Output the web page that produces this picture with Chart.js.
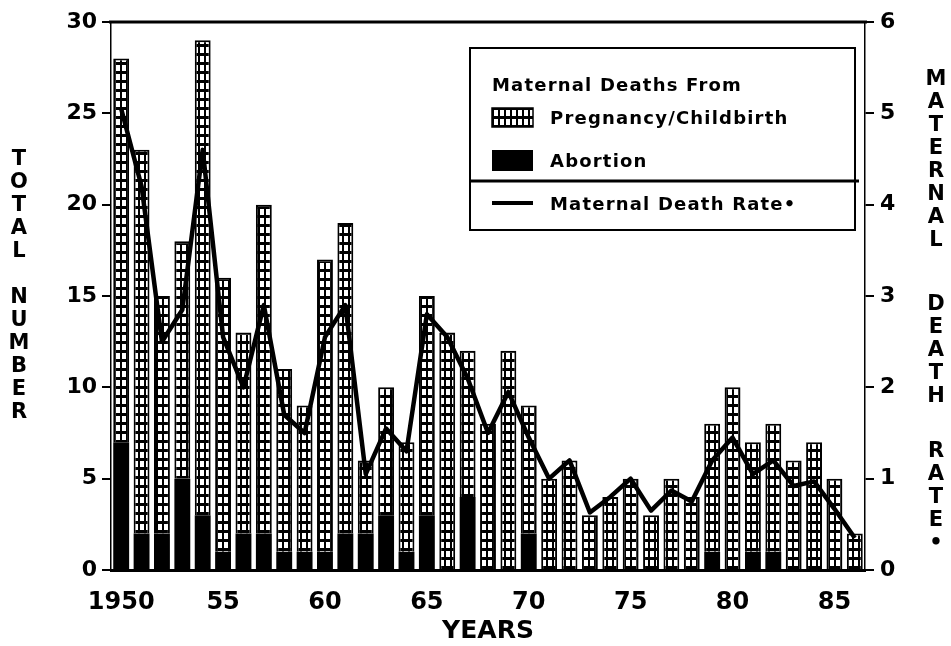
<!DOCTYPE html>
<html>
<head>
<meta charset="utf-8">
<title>Maternal Deaths 1950-1986</title>
<script src="https://cdn.jsdelivr.net/npm/chart.js@4.4.1/dist/chart.umd.min.js"></script>
<style>
  html, body { margin: 0; padding: 0; background: #fff; }
  #wrap { width: 951px; height: 646px; }
</style>
</head>
<body>
<div id="wrap"><canvas id="deathsChart" width="951" height="646"></canvas></div>
<script>
// Data
const years = ['1950', '1951', '1952', '1953', '1954', '1955', '1956', '1957', '1958', '1959',
               '1960', '1961', '1962', '1963', '1964', '1965', '1966', '1967', '1968', '1969',
               '1970', '1971', '1972', '1973', '1974', '1975', '1976', '1977', '1978', '1979',
               '1980', '1981', '1982', '1983', '1984', '1985', '1986'];
const abortionDeaths = [7, 2, 2, 5, 3, 1, 2, 2, 1, 1,
                        1, 2, 2, 3, 1, 3, 0, 4, 0, 0,
                        2, 0, 0, 0, 0, 0, 0, 0, 0, 1,
                        0, 1, 1, 0, 0, 0, 0];
const pregnancyDeaths = [21, 21, 13, 13, 26, 15, 11, 18, 10, 8,
                         16, 17, 4, 7, 6, 12, 13, 8, 8, 12,
                         7, 5, 6, 3, 4, 5, 3, 5, 4, 7,
                         10, 6, 7, 6, 7, 5, 2];
const deathRate = [5.05, 4.2, 2.5, 2.85, 4.6, 2.55, 2.0, 2.9, 1.7, 1.5,
                   2.55, 2.9, 1.05, 1.55, 1.3, 2.8, 2.55, 2.1, 1.5, 1.95,
                   1.45, 1.0, 1.2, 0.63, 0.8, 1.0, 0.65, 0.87, 0.75, 1.2,
                   1.45, 1.05, 1.2, 0.92, 0.97, 0.67, 0.35];
const xTickYears = ['1950', '1955', '1960', '1965', '1970', '1975', '1980', '1985'];
const xTickText = ['1950', '55', '60', '65', '70', '75', '80', '85'];
const legendTitle = 'Maternal Deaths From';
const leftTitleWords = ['TOTAL', 'NUMBER'];
const rightTitleWords = ['MATERNAL', 'DEATH', 'RATE\u2022'];

const FONT = '"DejaVu Sans", "Liberation Sans", sans-serif';

const canvas = document.getElementById('deathsChart');
const ctx = canvas.getContext('2d');

// grid fill used for the pregnancy/childbirth bars
function makeGridPattern() {
    const c = document.createElement('canvas');
    c.width = 6;
    c.height = 9;
    const g = c.getContext('2d');
    g.fillStyle = '#000';
    g.fillRect(0, 0, 6, 9);
    g.fillStyle = '#fff';
    g.fillRect(2, 2, 4, 6);
    return ctx.createPattern(c, 'repeat');
}
const gridPattern = makeGridPattern();

// frame line along the top of the plot
const topLine = {
    id: 'topLine',
    afterDraw(chart) {
        const a = chart.chartArea;
        const c = chart.ctx;
        c.save();
        c.strokeStyle = '#000';
        c.lineWidth = 3;
        c.beginPath();
        c.moveTo(a.left - 2, a.top);
        c.lineTo(a.right + 2, a.top);
        c.stroke();
        c.restore();
    }
};

// stacked letter axis titles
function drawStacked(c, words, x, starts, step) {
    words.forEach((w, i) => {
        [...w].forEach((ch, j) => c.fillText(ch, x, starts[i] + j * step));
    });
}
const sideTitles = {
    id: 'sideTitles',
    afterDraw(chart) {
        const c = chart.ctx;
        c.save();
        c.fillStyle = '#000';
        c.font = 'bold 21px ' + FONT;
        c.textAlign = 'center';
        c.textBaseline = 'middle';
        drawStacked(c, leftTitleWords, 19, [160, 298], 23);
        drawStacked(c, rightTitleWords, 936, [80, 305, 452], 23);
        c.restore();
    }
};

// boxed legend in the upper right
const boxLegend = {
    id: 'boxLegend',
    afterDraw(chart) {
        const c = chart.ctx;
        const ds = chart.data.datasets;
        c.save();
        c.fillStyle = '#fff';
        c.fillRect(470, 48, 385, 182);
        c.strokeStyle = '#000';
        c.lineWidth = 2;
        c.strokeRect(470, 48, 385, 182);

        c.fillStyle = '#000';
        c.font = 'bold 18px ' + FONT;
        c.letterSpacing = '1.2px';
        c.textBaseline = 'middle';
        c.textAlign = 'left';
        c.fillText(legendTitle, 492, 86);

        // pregnancy swatch
        c.fillStyle = gridPattern;
        c.fillRect(492, 108, 41, 19);
        c.lineWidth = 1.5;
        c.strokeRect(492, 108, 41, 19);
        c.fillStyle = '#000';
        c.fillText(ds[2].label, 550, 119);

        // abortion swatch
        c.fillRect(492, 150, 41, 21);
        c.fillText(ds[1].label, 550, 162);

        // separator
        c.lineWidth = 3;
        c.beginPath();
        c.moveTo(469, 181);
        c.lineTo(859, 181);
        c.stroke();

        // rate line swatch
        c.lineWidth = 4;
        c.beginPath();
        c.moveTo(492, 203);
        c.lineTo(533, 203);
        c.stroke();
        c.fillText(ds[0].label, 550, 205);
        c.restore();
    }
};

const tickFont = { family: FONT, size: 22, weight: 'bold' };

const deathsChart = new Chart(ctx, {
    data: {
        labels: years,
        datasets: [
            {
                type: 'line',
                label: 'Maternal Death Rate\u2022',
                data: deathRate,
                yAxisID: 'y1',
                borderColor: '#000',
                borderWidth: 4.5,
                pointRadius: 0,
                tension: 0,
                borderJoinStyle: 'round',
                order: 0
            },
            {
                type: 'bar',
                label: 'Abortion',
                data: abortionDeaths,
                yAxisID: 'y',
                stack: 'deaths',
                backgroundColor: '#000',
                borderWidth: 0,
                barPercentage: 0.78,
                categoryPercentage: 1,
                order: 1
            },
            {
                type: 'bar',
                label: 'Pregnancy/Childbirth',
                data: pregnancyDeaths,
                yAxisID: 'y',
                stack: 'deaths',
                backgroundColor: gridPattern,
                borderColor: '#000',
                borderWidth: 2,
                barPercentage: 0.78,
                categoryPercentage: 1,
                order: 2
            }
        ]
    },
    options: {
        responsive: false,
        animation: false,
        devicePixelRatio: 1,
        layout: { padding: { top: 22, left: 0, right: 0, bottom: 0 } },
        plugins: {
            legend: { display: false },
            tooltip: { enabled: false }
        },
        scales: {
            x: {
                stacked: true,
                offset: true,
                grid: { display: false },
                border: { display: true, color: '#000', width: 3 },
                ticks: {
                    autoSkip: false,
                    maxRotation: 0,
                    padding: 10,
                    color: '#000',
                    font: { family: FONT, size: 24, weight: 'bold' },
                    callback(value, index) {
                        const k = xTickYears.indexOf(years[index]);
                        return k >= 0 ? xTickText[k] : '';
                    }
                },
                title: {
                    display: true,
                    text: 'YEARS',
                    color: '#000',
                    font: { family: FONT, size: 25, weight: 'bold' },
                    padding: { top: 0, bottom: 0 }
                },
                afterFit(scale) { scale.height = 76; }
            },
            y: {
                stacked: true,
                position: 'left',
                min: 0,
                max: 30,
                ticks: { stepSize: 5, padding: 5, color: '#000', font: tickFont },
                grid: { display: true, drawOnChartArea: false, drawTicks: true, tickLength: 9, color: '#000', lineWidth: 2 },
                border: { display: true, color: '#000', width: 1.5 },
                afterFit(scale) { scale.width = 111; }
            },
            y1: {
                position: 'right',
                min: 0,
                max: 6,
                ticks: { stepSize: 1, padding: 6, color: '#000', font: tickFont },
                grid: { display: true, drawOnChartArea: false, drawTicks: true, tickLength: 9, color: '#000', lineWidth: 2 },
                border: { display: true, color: '#000', width: 1.5 },
                afterFit(scale) { scale.width = 86; }
            }
        }
    },
    plugins: [topLine, sideTitles, boxLegend]
});
</script>
</body>
</html>
